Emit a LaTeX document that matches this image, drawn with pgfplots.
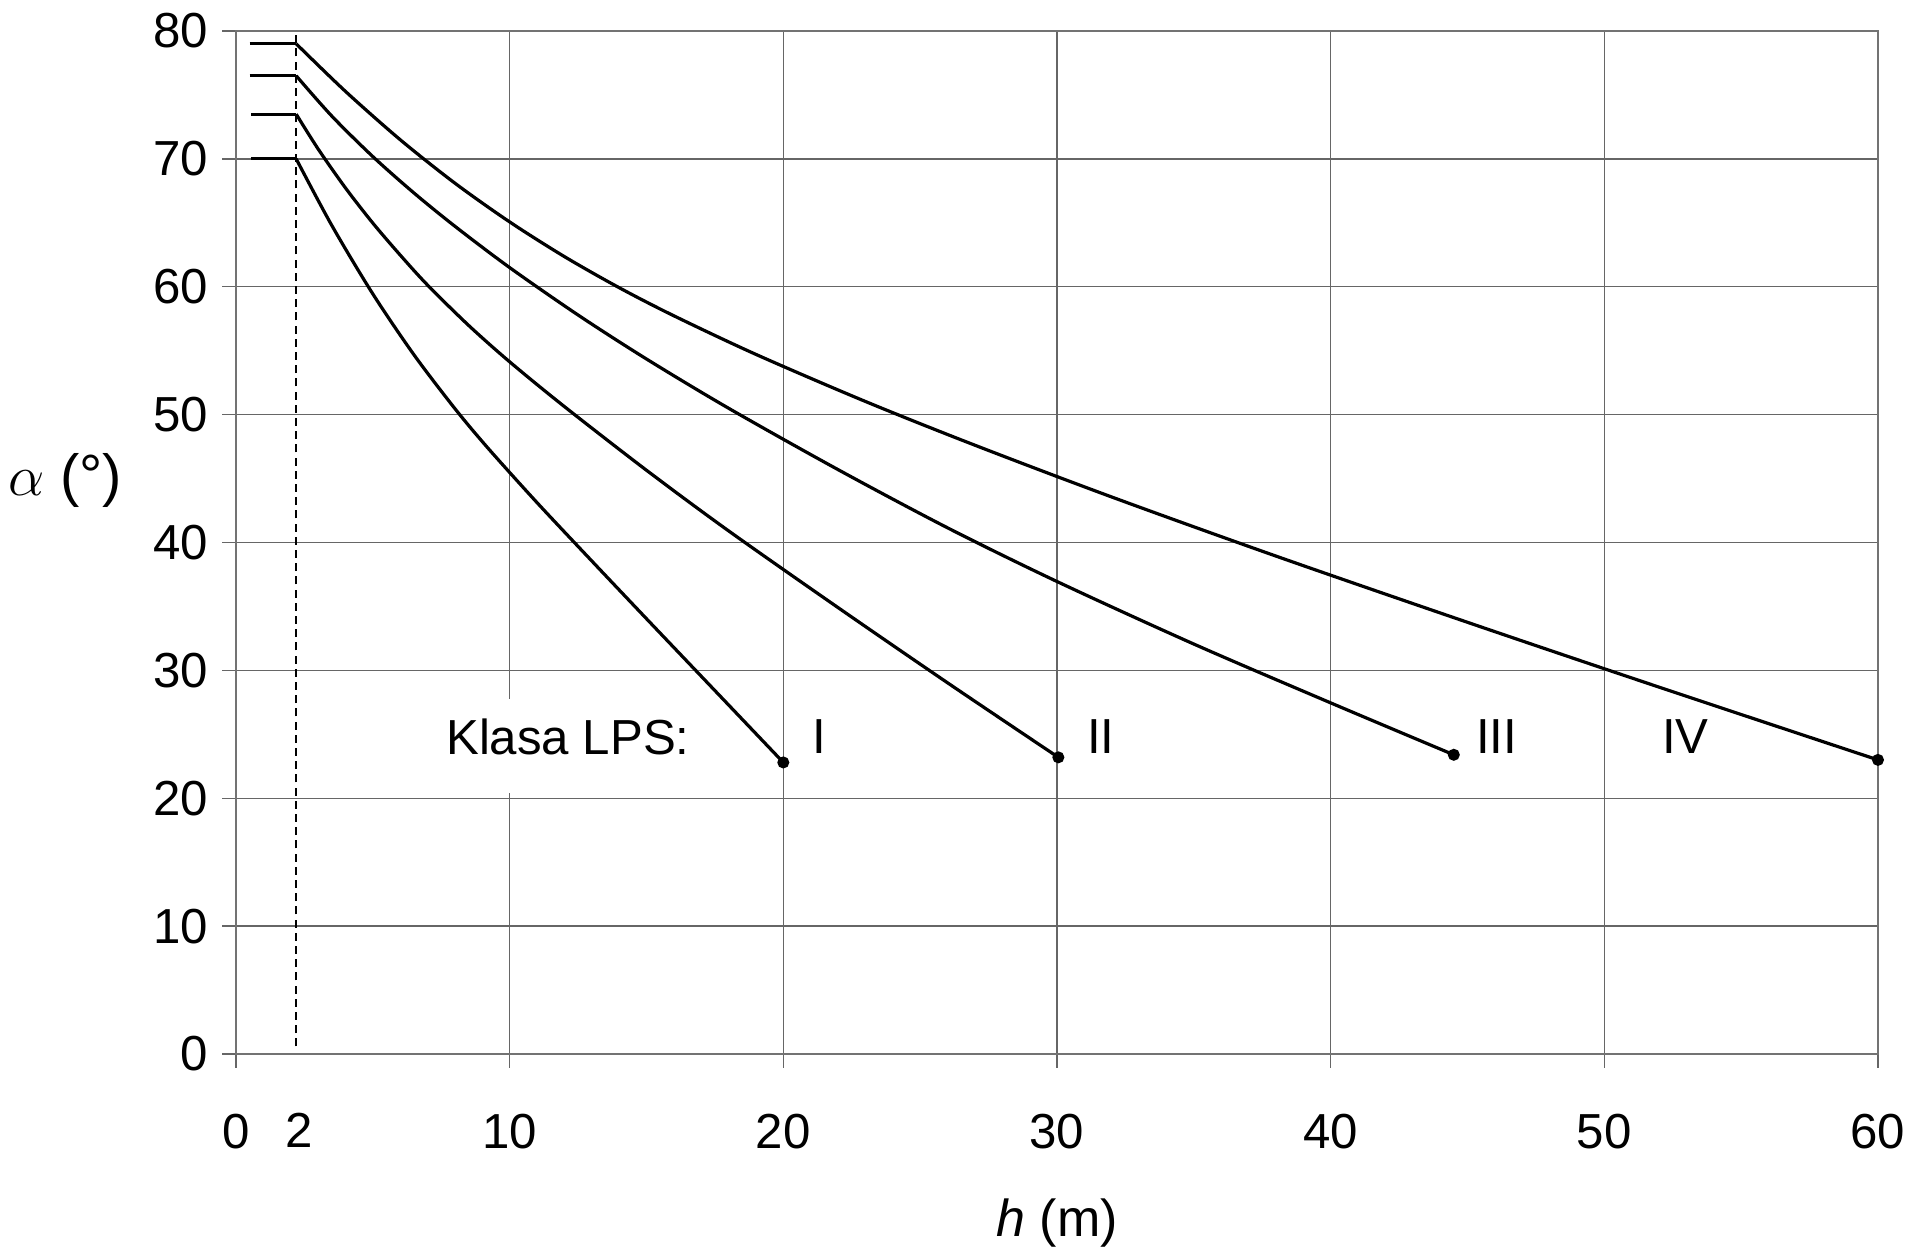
\documentclass[border=0pt]{standalone}
\usepackage{fontspec}
\setmainfont{Liberation Sans}
\usepackage{pgfplots}
\pgfplotsset{compat=1.18}
\newcommand\fs{\fontsize{12.3}{14}\selectfont}
\begin{document}
\begin{tikzpicture}
\begin{axis}[
  at={(0,0)}, anchor=south west,
  scale only axis,
  width=410.5pt, height=255.75pt,
  xmin=0, xmax=60, ymin=0, ymax=80,
  xtick={0,10,...,60}, ytick={0,10,...,80},
  extra x ticks={2.2}, extra x tick labels={2},
  extra x tick style={grid=none, major tick length=0pt, xticklabel style={yshift=-3.3pt, xshift=0.8pt}},
  grid=major,
  grid style={black!60, line width=0.35pt},
  axis line style={black!55, line width=0.35pt},
  tick style={black!60, line width=0.35pt},
  tick align=outside, tick pos=left,
  major tick length=3.4pt,
  /pgf/number format/assume math mode=true,
  tick label style={font=\fs},
  xticklabel style={yshift=-8pt},
  xlabel={\textit{h} (m)},
  xlabel style={font=\fontsize{13}{15}\selectfont, at={(axis description cs:0.5,-0.1652)}, anchor=center},
  ylabel={$\alpha$ (°)},
  ylabel style={font=\fontsize{14.5}{16}\selectfont, at={(axis description cs:-0.104,0.561)}, anchor=center, rotate=-90},
  clip=false,
]
% white box behind the "Klasa LPS:" label
\fill[white] (axis cs:7.6,20.45) rectangle (axis cs:16.6,27.8);
% reference line at h = 2
\addplot[black, line width=0.55pt, dash pattern=on 2pt off 1.3pt] coordinates {(2.2,0.6) (2.2,80)};
% plateaus
\addplot[black, line width=0.8pt] coordinates {(0.5,79) (2.2,79)};
\addplot[black, line width=0.8pt] coordinates {(0.5,76.5) (2.2,76.5)};
\addplot[black, line width=0.8pt] coordinates {(0.55,73.5) (2.2,73.5)};
\addplot[black, line width=0.8pt] coordinates {(0.55,70) (2.2,70)};
% Class IV
\addplot[black, line width=0.8pt, smooth, tension=0.5] coordinates {
(2.2,79) (4,75.28) (6,71.5) (8,68.1) (10,65.07) (12,62.36) (14,59.93) (16,57.73)
(19,54.71) (23,51.03) (27,47.61) (32,43.56) (38,38.94) (45,33.76) (52,28.69) (60,23.0)};
% Class III
\addplot[black, line width=0.8pt, smooth, tension=0.5] coordinates {
(2.2,76.5) (3.5,73.35) (5,70.18) (6.5,67.34) (8,64.73) (10,61.5) (12.5,57.79) (15,54.35)
(18,50.5) (22,45.7) (26,41.15) (30,36.95) (35,32.06) (40,27.46) (44.5,23.4)};
% Class II
\addplot[black, line width=0.8pt, smooth, tension=0.5] coordinates {
(2.2,73.5) (3,70.78) (4,67.73) (5,64.98) (6,62.48) (7,60.13) (8.5,56.98) (10,54.13)
(12,50.63) (15,45.65) (18,40.91) (22,34.91) (26,29.03) (30.05,23.2)};
% Class I
\addplot[black, line width=0.8pt, smooth, tension=0.5] coordinates {
(2.2,70) (3.5,64.8) (5,59.44) (6.5,54.69) (8,50.47) (9.2,47.4) (11,43.12) (13,38.56)
(15,34.04) (17.5,28.42) (20,22.8)};
% end points
\addplot[only marks, mark=*, mark size=1.3pt, black] coordinates {
(20,22.8) (30.05,23.2) (44.5,23.4) (60,23.0)};
\node[font=\fs, anchor=center] at (axis cs:12.13,24.8) {Klasa LPS:};
\node[font=\fs, anchor=center] at (axis cs:21.3,24.8) {I};
\node[font=\fs, anchor=center] at (axis cs:31.6,24.8) {II};
\node[font=\fs, anchor=center] at (axis cs:46.07,24.8) {III};
\node[font=\fs, anchor=center] at (axis cs:52.96,24.8) {IV};
\end{axis}
\pgfresetboundingbox
\path (-59pt,-50.75pt) rectangle (423.75pt,263.5pt);
\end{tikzpicture}
\end{document}
